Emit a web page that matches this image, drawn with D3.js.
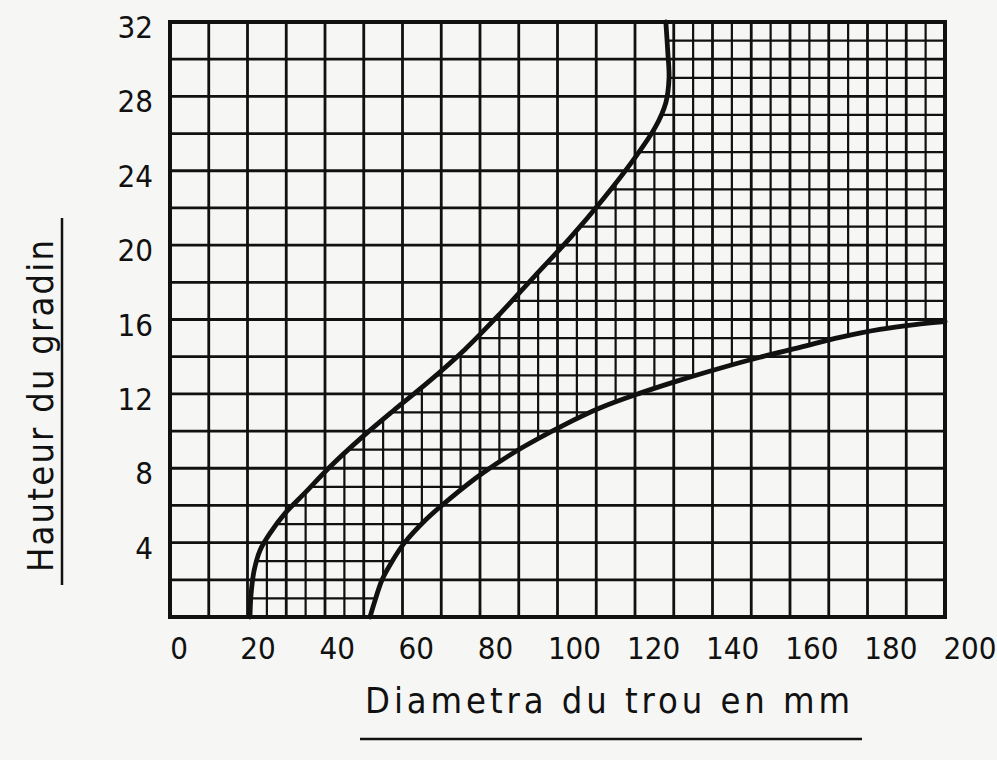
<!DOCTYPE html>
<html>
<head>
<meta charset="utf-8">
<script src="https://cdn.jsdelivr.net/npm/d3@7"></script>
<style>
  body { margin: 0; background: #f6f6f4; }
  svg { display: block; }
  text { font-family: "DejaVu Sans Condensed", "Liberation Sans Narrow", "Liberation Sans", sans-serif; fill: #111; }
</style>
</head>
<body>
<svg id="chart"></svg>
<script>
// tick labels
var xTicks = [0, 20, 40, 60, 80, 100, 120, 140, 160, 180, 200];
var yTicks = [4, 8, 12, 16, 20, 24, 28, 32];

// left limit curve (diametre mm, hauteur)
var leftX = [17.95, 18.2, 19.0, 20.5, 23.0, 26.8, 31.9, 38.2, 45.8, 54.1, 63.0, 72.3, 81.2, 90.0, 98.9, 107.2, 114.8, 120.4, 123.1, 123.9, 123.6, 123.1];
var leftY = [0, 1.18, 2.51, 3.59, 4.5, 5.57, 6.69, 8.08, 9.58, 11.08, 12.63, 14.39, 16.32, 18.35, 20.39, 22.47, 24.56, 26.33, 27.67, 29.0, 30.34, 32];

// right limit curve
var rightX = [48.3, 49.6, 51.3, 53.9, 56.9, 62.2, 68.5, 76.9, 86.7, 96.8, 106.4, 116.6, 126.7, 136.8, 146.9, 157.0, 167.1, 177.2, 186.1, 193.7];
var rightY = [0, 0.91, 1.98, 3.0, 3.96, 5.19, 6.37, 7.76, 9.1, 10.27, 11.24, 12.04, 12.74, 13.38, 13.97, 14.5, 15.04, 15.47, 15.73, 15.89];

var screen = {width: 997, height: 760};
var frame = {left: 170, right: 945, top: 22, bottom: 617};
var nCols = 20, nRows = 16;

var svg = d3.select("#chart")
    .attr("width", screen.width)
    .attr("height", screen.height);

var xScale = d3.scaleLinear().domain([0, 200]).range([179, 970]);
var yScale = d3.scaleLinear().domain([0, 32]).range([frame.bottom, frame.top]);

// paper grid
var gridX = d3.scaleLinear().domain([0, nCols]).range([frame.left, frame.right]);
var gridY = d3.scaleLinear().domain([0, nRows]).range([frame.bottom, frame.top]);

var line = d3.line()
    .x(function(d) { return xScale(d[0]); })
    .y(function(d) { return yScale(d[1]); })
    .curve(d3.curveCatmullRom.alpha(0.5));

var leftPts = leftX.map(function(x, i) { return [x, leftY[i]]; });
var rightPts = rightX.map(function(x, i) { return [x, rightY[i]]; });

// zone between the two curves, for the fine grid
var zone = line(leftPts)
    + "L" + frame.right + "," + frame.top
    + "L" + frame.right + "," + yScale(rightY[rightY.length - 1])
    + line(rightPts.slice().reverse()).replace(/^M/, "L")
    + "Z";

svg.append("defs").append("clipPath")
    .attr("id", "zone")
    .append("path")
    .attr("d", zone);

var fine = svg.append("g")
    .attr("clip-path", "url(#zone)")
    .attr("stroke", "#111")
    .attr("stroke-width", 2.2);

fine.selectAll(".fv")
    .data(d3.range(0.5, nCols, 1))
    .enter()
    .append("line")
    .attr("x1", function(d) { return gridX(d); })
    .attr("x2", function(d) { return gridX(d); })
    .attr("y1", frame.top)
    .attr("y2", frame.bottom);

fine.selectAll(".fh")
    .data(d3.range(0.5, nRows, 1))
    .enter()
    .append("line")
    .attr("y1", function(d) { return gridY(d); })
    .attr("y2", function(d) { return gridY(d); })
    .attr("x1", frame.left)
    .attr("x2", frame.right);

var coarse = svg.append("g")
    .attr("stroke", "#111")
    .attr("stroke-width", 2.8);

coarse.selectAll(".cv")
    .data(d3.range(1, nCols))
    .enter()
    .append("line")
    .attr("x1", function(d) { return gridX(d); })
    .attr("x2", function(d) { return gridX(d); })
    .attr("y1", frame.top)
    .attr("y2", frame.bottom);

coarse.selectAll(".ch")
    .data(d3.range(1, nRows))
    .enter()
    .append("line")
    .attr("y1", function(d) { return gridY(d); })
    .attr("y2", function(d) { return gridY(d); })
    .attr("x1", frame.left)
    .attr("x2", frame.right);

svg.append("rect")
    .attr("x", frame.left)
    .attr("y", frame.top)
    .attr("width", frame.right - frame.left)
    .attr("height", frame.bottom - frame.top)
    .attr("fill", "none")
    .attr("stroke", "#111")
    .attr("stroke-width", 4);

// the two curves
svg.selectAll(".curve")
    .data([leftPts, rightPts])
    .enter()
    .append("path")
    .attr("d", line)
    .attr("fill", "none")
    .attr("stroke", "#111")
    .attr("stroke-width", 4.8)
    .attr("stroke-linecap", "round");

// tick labels
svg.selectAll(".xl")
    .data(xTicks)
    .enter()
    .append("text")
    .attr("x", function(d) { return xScale(d); })
    .attr("y", 659)
    .attr("text-anchor", "middle")
    .attr("font-size", 31)
    .text(function(d) { return d; });

svg.selectAll(".yl")
    .data(yTicks)
    .enter()
    .append("text")
    .attr("x", 153)
    .attr("y", function(d) { return yScale(d) + 16; })
    .attr("text-anchor", "end")
    .attr("font-size", 31)
    .text(function(d) { return d; });

// axis titles
svg.append("text")
    .attr("x", 365)
    .attr("y", 713)
    .attr("font-size", 36)
    .attr("textLength", 485)
    .attr("lengthAdjust", "spacing")
    .text("Diametra du trou en mm");

svg.append("line")
    .attr("x1", 360).attr("x2", 862)
    .attr("y1", 739).attr("y2", 739)
    .attr("stroke", "#111").attr("stroke-width", 2.5);

svg.append("text")
    .attr("transform", "translate(53,572) rotate(-90)")
    .attr("font-size", 36)
    .attr("textLength", 332)
    .attr("lengthAdjust", "spacing")
    .text("Hauteur du gradin");

svg.append("line")
    .attr("x1", 62).attr("x2", 62)
    .attr("y1", 218).attr("y2", 585)
    .attr("stroke", "#111").attr("stroke-width", 2.5);
</script>
</body>
</html>
